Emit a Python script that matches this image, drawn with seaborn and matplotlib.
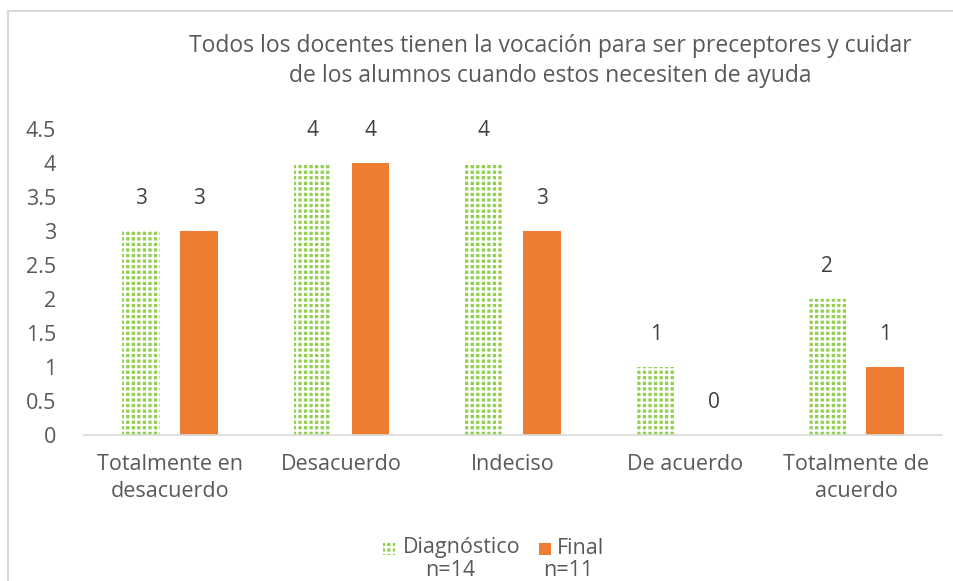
import pandas as pd
import seaborn as sns
import matplotlib.pyplot as plt
from matplotlib.patches import Rectangle

categories = ['Totalmente en\ndesacuerdo', 'Desacuerdo', 'Indeciso', 'De acuerdo', 'Totalmente de\nacuerdo']
diagnostico = [3, 4, 4, 1, 2]
final = [3, 4, 3, 0, 1]
series = ['Diagnóstico', 'Final']
n_labels = ['n=14', 'n=11']

df = pd.DataFrame({
    'categoria': categories * 2,
    'valor': diagnostico + final,
    'serie': [series[0]] * len(categories) + [series[1]] * len(categories),
})

sns.set_theme(style='white')
plt.rcParams['font.family'] = ['Open Sans', 'DejaVu Sans']
plt.rcParams['hatch.linewidth'] = 1.6
text_color = '#595959'
green, orange = '#92D050', '#ED7D31'

fig = plt.figure(figsize=(9.54, 5.81), dpi=100)
ax = fig.add_axes([84 / 954, 1 - 435 / 581, (942 - 84) / 954, (435 - 129) / 581])

sns.barplot(data=df, x='categoria', y='valor', hue='serie', order=categories,
            palette=[green, orange], width=0.676, gap=0.35,
            ax=ax, legend=False, saturation=1)

# checkerboard fill for the first series
for bar in ax.containers[0]:
    bar.set_facecolor(green)
    bar.set_edgecolor('white')
    bar.set_hatch('+++')
    bar.set_linewidth(0)
for bar in ax.containers[1]:
    bar.set_linewidth(0)

for cont in ax.containers:
    ax.bar_label(cont, fmt='%d', padding=16, fontsize=15, color='#404040')

ax.set_ylim(0, 4.5)
ax.set_yticks([0, 0.5, 1, 1.5, 2, 2.5, 3, 3.5, 4, 4.5])
ax.set_yticklabels(['0', '0.5', '1', '1.5', '2', '2.5', '3', '3.5', '4', '4.5'])
ax.set_xlabel('')
ax.set_ylabel('')
ax.tick_params(axis='both', length=0, labelsize=15.5, labelcolor=text_color)
ax.tick_params(axis='y', pad=20)
ax.tick_params(axis='x', pad=14)
for lbl in ax.get_xticklabels():
    lbl.set_linespacing(1.35)
for side in ['top', 'right', 'left']:
    ax.spines[side].set_visible(False)
ax.spines['bottom'].set_color('#d9d9d9')
ax.spines['bottom'].set_linewidth(1.2)

fig.text(550 / 954, 1 - 61 / 581,
         'Todos los docentes tienen la vocación para ser preceptores y cuidar\nde los alumnos cuando estos necesiten de ayuda',
         ha='center', va='center', fontsize=16.5, color=text_color, linespacing=1.3)

# legend, built by hand so the n= line sits under each entry
sq_x = [383, 539]
txt_x = [403, 557]
n_x = [450, 568]
for i, name in enumerate(series):
    sq = Rectangle((sq_x[i] / 954, 1 - 555 / 581), 12 / 954, 12 / 581,
                   transform=fig.transFigure, facecolor=[green, orange][i],
                   edgecolor='white' if i == 0 else 'none',
                   hatch='+++' if i == 0 else None, linewidth=0)
    fig.patches.append(sq)
    fig.text(txt_x[i] / 954, 1 - 548 / 581, name, ha='left', va='center',
             fontsize=15.5, color=text_color)
    fig.text(n_x[i] / 954, 1 - 571 / 581, n_labels[i], ha='center', va='center',
             fontsize=15.5, color=text_color)

# chart border
fig.patches.append(Rectangle((8 / 954, -0.05), 1.1, 1 - 11 / 581 + 0.05,
                             transform=fig.transFigure, fill=False,
                             edgecolor='#d9d9d9', linewidth=1.5))

fig.savefig('out.png', dpi=100)
